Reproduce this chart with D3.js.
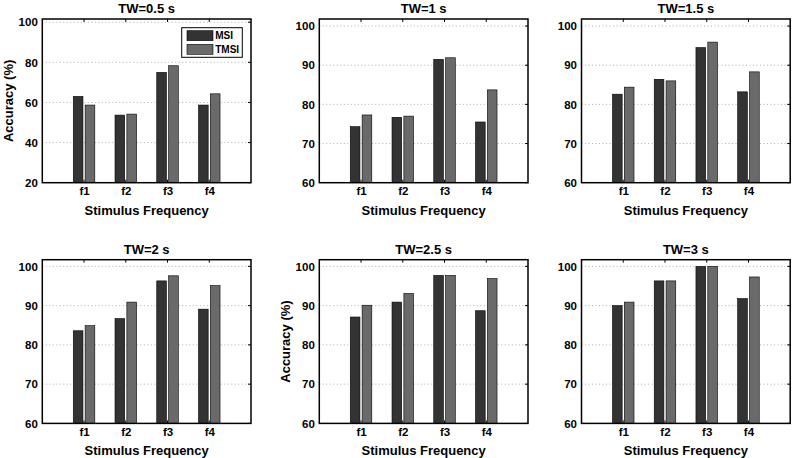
<!DOCTYPE html>
<html><head><meta charset="utf-8">
<script src="https://cdn.jsdelivr.net/npm/d3@7"></script>
<style>
html,body{margin:0;padding:0;background:#fff;}
svg text{font-family:"Liberation Sans",Arial,Helvetica,sans-serif;font-weight:bold;fill:#000;}
</style></head>
<body>
<svg id="chart" width="793" height="458"></svg>
<script>
const categories = ["f1", "f2", "f3", "f4"];
const titles = ["TW=0.5 s", "TW=1 s", "TW=1.5 s", "TW=2 s", "TW=2.5 s", "TW=3 s"];
const seriesNames = ["MSI", "TMSI"];
const msi = [
  [63.0, 53.7, 75.0, 58.7],
  [74.3, 76.7, 91.5, 75.5],
  [82.6, 86.4, 94.5, 83.2],
  [83.6, 86.7, 96.3, 89.1],
  [87.1, 90.9, 97.7, 88.7],
  [90.0, 96.3, 100.0, 91.8]
];
const tmsi = [
  [58.7, 54.2, 78.3, 64.3],
  [77.3, 77.0, 91.9, 83.7],
  [84.4, 86.0, 95.9, 88.3],
  [84.9, 90.9, 97.6, 95.1],
  [90.1, 93.1, 97.7, 96.9],
  [90.9, 96.3, 100.0, 97.3]
];
const yTicksFirst = [20, 40, 60, 80, 100];
const yTicksOther = [60, 70, 80, 90, 100];
const yDomains = [[20, 101.6], [60, 101.8], [60, 101.8], [60, 101.7], [60, 101.7], [60, 101.7]];
const yLabelPanels = [0, 4];
const xLabel = "Stimulus Frequency";
const yLabel = "Accuracy (%)";

const colors = ["#333333", "#6a6a6a"];
const lefts = [42.3, 319.3, 581.5];
const tops = [19, 259.7];
const W = 208.7, H = 163.7;

const svg = d3.select("#chart");

titles.forEach((t, i) => {
  const col = i % 3, row = Math.floor(i / 3);
  const g = svg.append("g").attr("transform", `translate(${lefts[col]},${tops[row]})`);
  const x = d3.scaleLinear().domain([0, 5]).range([0, W]);
  const y = d3.scaleLinear().domain(yDomains[i]).range([H, 0]);
  const ticks = i === 0 ? yTicksFirst : yTicksOther;

  // grid
  g.selectAll(".grid").data(ticks.filter(v => v > yDomains[i][0])).enter().append("line")
    .attr("x1", 0).attr("x2", W)
    .attr("y1", d => y(d)).attr("y2", d => y(d))
    .attr("stroke", "#9a9a9a").attr("stroke-width", 0.8)
    .attr("stroke-dasharray", "1,2.5");

  // bars
  const bw = 0.232, off = 0.142;
  [msi[i], tmsi[i]].forEach((vals, s) => {
    g.selectAll(".bar" + s).data(vals).enter().append("rect")
      .attr("x", (d, k) => x(k + 1 + (s === 0 ? -off : off) - bw / 2))
      .attr("width", x(bw) - x(0))
      .attr("y", d => y(d))
      .attr("height", d => H - y(d))
      .attr("fill", colors[s])
      .attr("stroke", "#000").attr("stroke-width", 0.6);
  });

  // y axis left
  const yAxis = d3.axisLeft(y).tickValues(ticks).tickSize(0).tickPadding(4.5);
  const ya = g.append("g").call(yAxis);
  ya.select(".domain").remove();
  ya.selectAll("text").style("font-size", "11.5px").style("font-family", "Liberation Sans, Arial, sans-serif").style("font-weight", "bold");

  // right ticks (inside)
  g.selectAll(".rt").data(ticks).enter().append("line")
    .attr("x1", W).attr("x2", W - 3).attr("y1", d => y(d)).attr("y2", d => y(d))
    .attr("stroke", "#000").attr("stroke-width", 1);

  // x axis
  const xAxis = d3.axisBottom(x).tickValues([1, 2, 3, 4]).tickFormat((d) => categories[d - 1]).tickSize(0).tickPadding(4);
  const xa = g.append("g").attr("transform", `translate(0,${H})`).call(xAxis);
  xa.select(".domain").remove();
  xa.selectAll("text").style("font-size", "11.5px").style("font-family", "Liberation Sans, Arial, sans-serif").style("font-weight", "bold");

  // top and bottom ticks (inside)
  g.selectAll(".tt").data([1, 2, 3, 4]).enter().append("line")
    .attr("x1", d => x(d)).attr("x2", d => x(d)).attr("y1", 0).attr("y2", 3)
    .attr("stroke", "#000").attr("stroke-width", 1);
  g.selectAll(".bt").data([1, 2, 3, 4]).enter().append("line")
    .attr("x1", d => x(d)).attr("x2", d => x(d)).attr("y1", H).attr("y2", H - 3)
    .attr("stroke", "#000").attr("stroke-width", 1);

  // box
  g.append("rect").attr("x", 0).attr("y", 0).attr("width", W).attr("height", H)
    .attr("fill", "none").attr("stroke", "#000").attr("stroke-width", 1.5);

  // title
  g.append("text").attr("x", W / 2).attr("y", -6).attr("text-anchor", "middle")
    .style("font-size", "13px").text(t);

  // x label
  g.append("text").attr("x", W / 2).attr("y", H + 32).attr("text-anchor", "middle")
    .style("font-size", "13px").text(xLabel);

  // y label
  if (yLabelPanels.includes(i)) {
    g.append("text").attr("transform", `translate(-29.5,${H / 2}) rotate(-90)`)
      .attr("text-anchor", "middle").style("font-size", "13px").text(yLabel);
  }

  // legend
  if (i === 0) {
    const lg = g.append("g").attr("transform", `translate(${139.4},${8.7})`);
    lg.append("rect").attr("x", 0).attr("y", 0).attr("width", 60.6).attr("height", 29.6)
      .attr("fill", "#fff").attr("stroke", "#000").attr("stroke-width", 1);
    seriesNames.forEach((n, s) => {
      lg.append("rect").attr("x", 5.3).attr("y", 3 + s * 13.6).attr("width", 26).attr("height", 10)
        .attr("fill", colors[s]).attr("stroke", "#000").attr("stroke-width", 0.6);
      lg.append("text").attr("x", 33.5).attr("y", 11.8 + s * 13.6)
        .style("font-size", "10px").text(n);
    });
  }
});
</script>
</body></html>
